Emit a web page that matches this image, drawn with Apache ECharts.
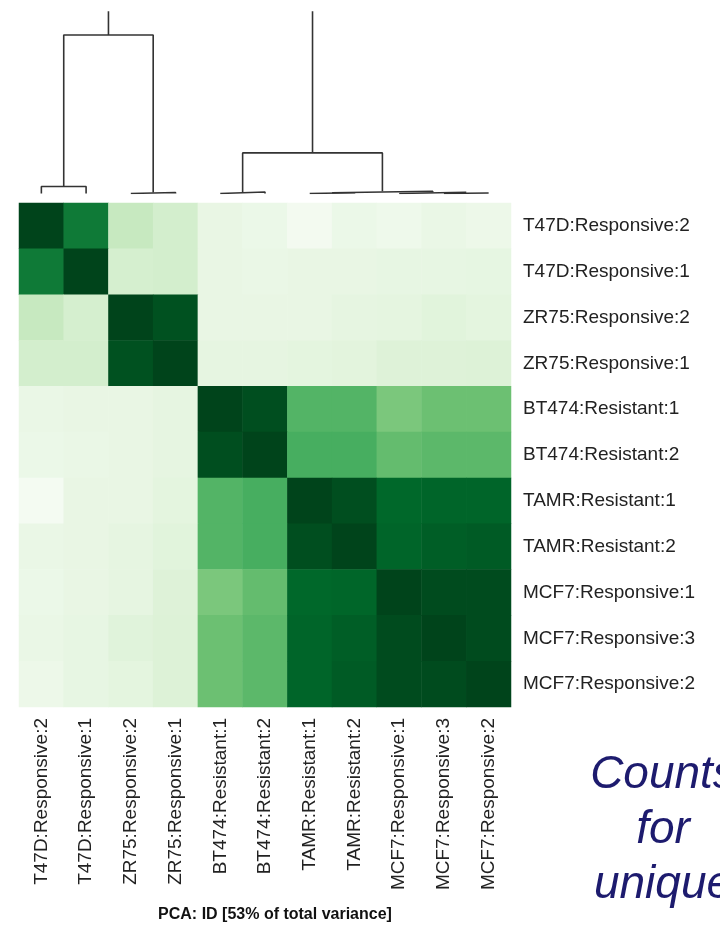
<!DOCTYPE html>
<html>
<head>
<meta charset="utf-8">
<script src="https://cdn.jsdelivr.net/npm/echarts@6/dist/echarts.min.js"></script>
<style>
  html, body { margin: 0; padding: 0; background: #ffffff; }
  #chart { width: 720px; height: 930px; }
</style>
</head>
<body>
<div id="chart"></div>
<script>
// Sample labels, in clustered order (columns left to right, rows top to bottom)
const samples = [
  'T47D:Responsive:2', 'T47D:Responsive:1', 'ZR75:Responsive:2', 'ZR75:Responsive:1',
  'BT474:Resistant:1', 'BT474:Resistant:2', 'TAMR:Resistant:1', 'TAMR:Resistant:2',
  'MCF7:Responsive:1', 'MCF7:Responsive:3', 'MCF7:Responsive:2'
];

// Sample-to-sample similarity (0 = least similar, 1 = identical), one row per sample
const simT47D2 = [1.00, 0.82, 0.25, 0.20, 0.10, 0.08, 0.03, 0.08, 0.06, 0.09, 0.07];
const simT47D1 = [0.82, 1.00, 0.19, 0.20, 0.10, 0.09, 0.10, 0.10, 0.11, 0.11, 0.115];
const simZR752 = [0.25, 0.19, 1.00, 0.96, 0.10, 0.10, 0.10, 0.12, 0.125, 0.14, 0.13];
const simZR751 = [0.20, 0.20, 0.96, 1.00, 0.12, 0.12, 0.13, 0.135, 0.155, 0.155, 0.16];
const simBT4741 = [0.09, 0.10, 0.10, 0.12, 1.00, 0.97, 0.58, 0.58, 0.48, 0.52, 0.52];
const simBT4742 = [0.08, 0.09, 0.10, 0.12, 0.97, 1.00, 0.61, 0.61, 0.54, 0.56, 0.56];
const simTAMR1 = [0.02, 0.10, 0.10, 0.13, 0.58, 0.61, 1.00, 0.97, 0.89, 0.90, 0.90];
const simTAMR2 = [0.09, 0.10, 0.12, 0.14, 0.58, 0.61, 0.97, 1.00, 0.90, 0.92, 0.93];
const simMCF71 = [0.08, 0.10, 0.12, 0.155, 0.48, 0.54, 0.89, 0.895, 1.00, 0.98, 0.98];
const simMCF73 = [0.09, 0.11, 0.145, 0.16, 0.52, 0.56, 0.90, 0.92, 0.98, 1.00, 0.98];
const simMCF72 = [0.07, 0.11, 0.13, 0.16, 0.52, 0.56, 0.90, 0.93, 0.98, 0.98, 1.00];
const simRows = [simT47D2, simT47D1, simZR752, simZR751, simBT4741, simBT4742,
                 simTAMR1, simTAMR2, simMCF71, simMCF73, simMCF72];

// Hierarchical clustering merges: [left node, right node, merge height].
// Nodes 0-10 are samples; each merge creates node 11, 12, ... in order.
const mergeLeft   = [0, 2, 11, 4, 6, 9,  8, 15, 14, 13];
const mergeRight  = [1, 3, 12, 5, 7, 10, 16, 17, 18, 19];
const mergeHeight = [7, 1, 158, 1.5, 0.8, 0.5, 1.2, 2.2, 40.5, 215];

const greens = ['#f7fcf5', '#e5f5e0', '#c7e9c0', '#a1d99b', '#74c476',
                '#41ab5d', '#238b45', '#006d2c', '#00441b'];

const heatData = [];
simRows.forEach((row, r) => row.forEach((v, c) => heatData.push([c, r, v])));

// Walk the merges to get each node's x position (leaf centre = index + 0.5) and height
const nodeX = samples.map((_, i) => i + 0.5);
const nodeH = samples.map(() => 0);
const treeSeries = [];
mergeLeft.forEach((l, k) => {
  const r = mergeRight[k], h = mergeHeight[k];
  treeSeries.push({
    type: 'line',
    xAxisIndex: 1, yAxisIndex: 1,
    data: [[nodeX[l], nodeH[l]], [nodeX[l], h], [nodeX[r], h], [nodeX[r], nodeH[r]]],
    symbol: 'none', silent: true, clip: true,
    lineStyle: { color: '#333333', width: 1.6 },
    animation: false
  });
  nodeX.push((nodeX[l] + nodeX[r]) / 2);
  nodeH.push(h);
});

const font = '"Liberation Sans", Arial, sans-serif';
const chart = echarts.init(document.getElementById('chart'), null, { renderer: 'canvas' });
chart.setOption({
  backgroundColor: '#ffffff',
  animation: false,
  grid: [
    { left: 19, top: 203, width: 492, height: 504 },
    { left: 19, top: 12, width: 492, height: 181.5 }
  ],
  xAxis: [
    {
      type: 'category', gridIndex: 0, data: samples, position: 'bottom',
      axisLine: { show: false }, axisTick: { show: false },
      axisLabel: { rotate: 90, margin: 11, fontSize: 19, color: '#222', fontFamily: font, interval: 0 }
    },
    { type: 'value', gridIndex: 1, min: 0, max: 11, show: false }
  ],
  yAxis: [
    {
      type: 'category', gridIndex: 0, data: samples, inverse: true, position: 'right',
      axisLine: { show: false }, axisTick: { show: false },
      axisLabel: { margin: 12, fontSize: 19, color: '#222', fontFamily: font, interval: 0 }
    },
    { type: 'value', gridIndex: 1, min: 0, max: 181, show: false }
  ],
  visualMap: {
    show: false, min: 0, max: 1, dimension: 2, seriesIndex: 0,
    inRange: { color: greens }
  },
  series: [
    {
      type: 'heatmap', xAxisIndex: 0, yAxisIndex: 0, data: heatData,
      itemStyle: { borderWidth: 0 }, emphasis: { disabled: true }
    }
  ].concat(treeSeries),
  graphic: [
    {
      type: 'text', x: 275, y: 915,
      style: {
        text: 'PCA: ID [53% of total variance]',
        fill: '#111', font: 'bold 16px "Liberation Sans", Arial, sans-serif',
        align: 'center', verticalAlign: 'middle'
      }
    },
    {
      type: 'text', x: 663, y: 748,
      style: {
        text: 'Counts\nfor\nunique',
        fill: '#1d1b6e', font: 'italic 46px "Liberation Sans", Arial, sans-serif',
        align: 'center', verticalAlign: 'top', lineHeight: 55
      }
    }
  ]
});
</script>
</body>
</html>
